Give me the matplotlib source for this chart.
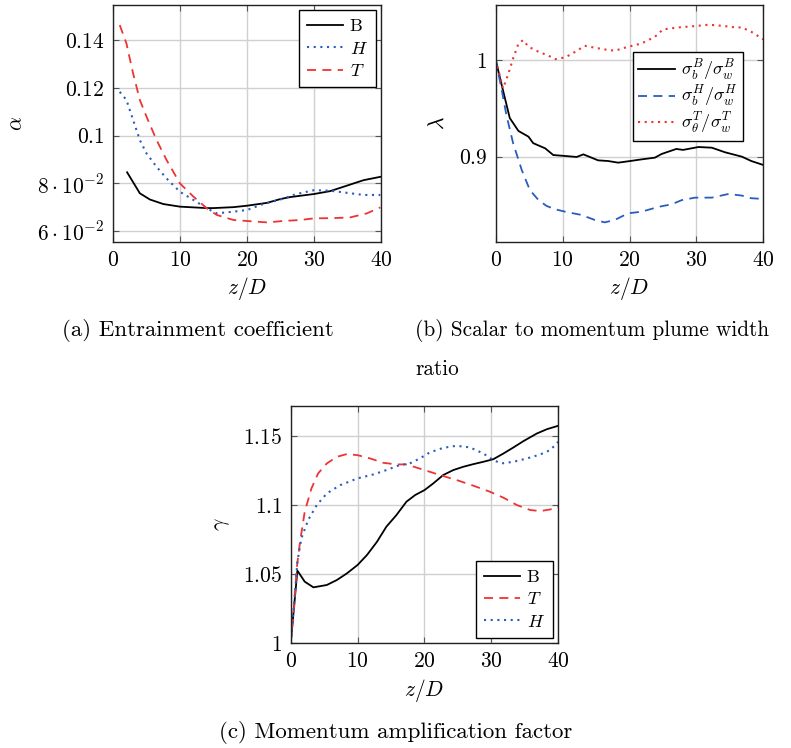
import matplotlib
matplotlib.use("Agg")
import matplotlib.pyplot as plt
import numpy as np

plt.rcParams['font.family'] = 'serif'
plt.rcParams['font.serif'] = ['cmr10', 'DejaVu Serif']
plt.rcParams['mathtext.fontset'] = 'cm'
plt.rcParams['axes.formatter.use_mathtext'] = True

RED = '#ee3333'
BLUE = '#2a5cbf'

# (a) entrainment coefficient
a_B_z = [2.1, 4.0, 5.5, 7.5, 10, 14, 15, 18, 20, 23, 25, 26.4, 30, 32.4, 34.9, 37.4, 39.9]
a_B = [0.0846, 0.0758, 0.0732, 0.0713, 0.0702, 0.0696, 0.0696, 0.0700, 0.0706, 0.0718,
       0.0734, 0.0742, 0.0755, 0.0767, 0.0790, 0.0813, 0.0827]
a_H_z = [1.0, 2.0, 3.0, 4.0, 5.0, 6.5, 8.0, 10, 12, 14, 15.5, 18, 20, 22.4, 25, 27.4, 30,
         32.4, 34.9, 37.4, 39.9]
a_H = [0.1183, 0.1149, 0.1065, 0.0981, 0.0925, 0.0869, 0.0820, 0.0764, 0.0730, 0.0695,
       0.0674, 0.0681, 0.0688, 0.0713, 0.0732, 0.0755, 0.0771, 0.0769, 0.0760, 0.0751, 0.0751]
a_T_z = [1.0, 2.0, 3.0, 4.0, 5.0, 6.5, 8.0, 10, 12, 14, 15.5, 18, 20, 23, 25.4, 27.9, 30,
         32.9, 35.4, 37.9, 39.9]
a_T = [0.1463, 0.1386, 0.1260, 0.1149, 0.1079, 0.0981, 0.0897, 0.0799, 0.0744, 0.0695,
       0.0667, 0.0646, 0.0642, 0.0636, 0.0642, 0.0646, 0.0653, 0.0654, 0.0657, 0.0674, 0.0699]

# (b) scalar to momentum plume width ratio
b_B_z = [0, 0.9, 2.1, 3.4, 4.9, 5.6, 7.4, 8.6, 10.4, 12.1, 13.1, 15.3, 16.8, 18.3, 20.1,
         21.8, 23.8, 24.8, 27.0, 28.0, 30.3, 32.3, 34.3, 36.8, 38.2, 40]
b_B = [1.0, 0.974, 0.940, 0.9266, 0.9207, 0.914, 0.9086, 0.9017, 0.9007, 0.8997, 0.9024,
       0.8962, 0.8955, 0.8938, 0.8955, 0.8972, 0.899, 0.9028, 0.908, 0.907, 0.910, 0.9093,
       0.9045, 0.900, 0.8955, 0.8914]
b_H_z = [0, 0.9, 1.6, 2.6, 3.9, 5.1, 6.4, 7.6, 8.9, 10.4, 12.8, 14.8, 16.3, 17.8, 19.8,
         21.8, 24.3, 26.3, 27.8, 29.8, 32.3, 34.8, 36.8, 38.2, 40]
b_H = [1.0, 0.969, 0.943, 0.914, 0.886, 0.8655, 0.855, 0.849, 0.8455, 0.843, 0.8397,
       0.8345, 0.832, 0.8345, 0.8414, 0.843, 0.848, 0.8507, 0.855, 0.8576, 0.8576, 0.8614,
       0.8597, 0.857, 0.8562]
b_T_z = [0, 0.65, 1.1, 1.9, 2.6, 3.4, 4.1, 4.9, 6.4, 7.9, 8.9, 10.4, 11.9, 13.3, 14.8,
         16.3, 17.8, 19.8, 21.8, 23.8, 25.0, 27.3, 29.8, 31.8, 33.8, 35.8, 36.8, 38.2, 40]
b_T = [1.0, 0.9828, 0.9707, 0.986, 1.0017, 1.017, 1.0207, 1.0138, 1.0086, 1.0045, 1.001,
       1.0028, 1.0086, 1.0148, 1.0128, 1.011, 1.0097, 1.0138, 1.0172, 1.0241, 1.0317,
       1.0338, 1.0352, 1.0366, 1.0355, 1.0338, 1.0338, 1.0293, 1.0214]

# (c) momentum amplification factor
c_B_z = [0, 1.0, 2.1, 3.4, 5.4, 6.9, 8.4, 10, 11.4, 12.9, 14.3, 15.8, 17.3, 18.6, 20,
         21.3, 22.8, 24.3, 25.8, 27.3, 28.8, 30.3, 31.8, 33.3, 34.8, 36.8, 38.3, 40]
c_B = [1.0, 1.0526, 1.0446, 1.0405, 1.0422, 1.0458, 1.0506, 1.0567, 1.0639, 1.0735,
       1.0844, 1.0928, 1.1025, 1.1073, 1.1109, 1.1157, 1.1218, 1.1254, 1.1278, 1.1297,
       1.1314, 1.1333, 1.1374, 1.1418, 1.1464, 1.1519, 1.155, 1.1575]
c_T_z = [0, 0.5, 0.9, 1.4, 2.1, 3.1, 4.1, 5.4, 6.9, 8.4, 10, 11.9, 13.8, 15.8, 17.3, 20,
         22.3, 24.8, 27.3, 29.8, 31.8, 33.8, 35.8, 37.3, 38.8, 40]
c_T = [1.0, 1.0253, 1.0543, 1.0735, 1.0953, 1.1121, 1.123, 1.1302, 1.135, 1.137, 1.1362,
       1.1338, 1.1307, 1.1295, 1.1295, 1.1254, 1.1218, 1.1182, 1.1141, 1.1097, 1.1054,
       1.1001, 1.0965, 1.0957, 1.0969, 1.0989]
c_H_z = [0, 0.5, 1.0, 1.6, 2.6, 3.9, 5.4, 7.4, 10, 12.4, 14.3, 16.3, 17.8, 19.3, 20.8,
         22.8, 24.8, 26.8, 28.8, 30.3, 31.5, 33.3, 35.3, 37.3, 38.8, 40]
c_H = [1.0, 1.0277, 1.0591, 1.076, 1.0892, 1.1001, 1.1085, 1.1145, 1.1194, 1.1223,
       1.1254, 1.129, 1.1302, 1.1338, 1.1382, 1.1415, 1.143, 1.1418, 1.1374, 1.1326,
       1.1302, 1.1314, 1.1338, 1.1367, 1.1399, 1.1459]

x_ticks = [0, 10, 20, 30, 40]
a_ticks = [0.06, 0.08, 0.10, 0.12, 0.14]
a_tick_labels = [r'$6\cdot10^{-2}$', r'$8\cdot10^{-2}$', '$0.1$', '$0.12$', '$0.14$']
b_ticks = [0.9, 1.0]
b_tick_labels = ['$0.9$', '$1$']
c_ticks = [1.0, 1.05, 1.1, 1.15]
c_tick_labels = ['$1$', '$1.05$', '$1.1$', '$1.15$']

dash = (0, (5, 3.5))
dot = (0, (1, 2.2))
fs = 15.5

fig = plt.figure(figsize=(7.91, 7.48), dpi=100)


def style(ax, yt, ytl, ylab):
    ax.set_xlim(0, 40)
    ax.set_xticks(x_ticks)
    ax.set_xticklabels(['$%d$' % v for v in x_ticks])
    ax.set_yticks(yt)
    ax.set_yticklabels(ytl)
    ax.grid(True, color='#d0d0d0', linewidth=1.0)
    ax.set_axisbelow(True)
    ax.tick_params(direction='in', length=4, width=0.8, color='#555555',
                   top=True, right=True, labelsize=fs, pad=6)
    for s in ax.spines.values():
        s.set_color('#222222')
        s.set_linewidth(1.0)
    ax.set_xlabel('$z/D$', fontsize=fs, labelpad=4)
    ax.set_ylabel(ylab, fontsize=fs, labelpad=8)


def legend(ax, spacing=0.35, pad=0.45, **kw):
    leg = ax.legend(frameon=True, fancybox=False, edgecolor='black', borderpad=pad,
                    handlelength=2.0, handletextpad=0.35, labelspacing=spacing,
                    framealpha=1.0, **kw)
    leg.get_frame().set_linewidth(1.0)


ax1 = fig.add_axes([0.1429, 0.6765, 0.3388, 0.3168])
ax1.plot(a_B_z, a_B, color='black', lw=1.3, label='B')
ax1.plot(a_H_z, a_H, color=BLUE, lw=1.5, ls=dot, label='$H$')
ax1.plot(a_T_z, a_T, color=RED, lw=1.3, ls=dash, label='$T$')
ax1.set_ylim(0.0554, 0.1547)
style(ax1, a_ticks, a_tick_labels, r'$\alpha$')
legend(ax1, loc='upper right', fontsize=13, borderaxespad=0.3)

ax2 = fig.add_axes([0.6267, 0.6769, 0.3383, 0.3164])
ax2.plot(b_B_z, b_B, color='black', lw=1.3, label=r'$\sigma_b^B/\sigma_w^B$')
ax2.plot(b_H_z, b_H, color=BLUE, lw=1.3, ls=dash, label=r'$\sigma_b^H/\sigma_w^H$')
ax2.plot(b_T_z, b_T, color=RED, lw=1.5, ls=dot, label=r'$\sigma_\theta^T/\sigma_w^T$')
ax2.set_ylim(0.812, 1.057)
style(ax2, b_ticks, b_tick_labels, r'$\lambda$')
legend(ax2, spacing=0.05, pad=0.3, loc='upper left', bbox_to_anchor=(0.513, 0.801),
       fontsize=13, borderaxespad=0.0)

ax3 = fig.add_axes([0.3675, 0.14, 0.3383, 0.3176])
ax3.plot(c_B_z, c_B, color='black', lw=1.3, label='B')
ax3.plot(c_T_z, c_T, color=RED, lw=1.3, ls=dash, label='$T$')
ax3.plot(c_H_z, c_H, color=BLUE, lw=1.5, ls=dot, label='$H$')
ax3.set_ylim(1.0, 1.172)
style(ax3, c_ticks, c_tick_labels, r'$\gamma$')
legend(ax3, loc='lower right', fontsize=13, borderaxespad=0.3)

cap = 16.5
fig.text(62 / 791, 1 - 331 / 748, '(a) Entrainment coefficient', fontsize=cap,
         ha='left', va='center')
fig.text(415 / 791, 1 - 331 / 748, '(b) Scalar to momentum plume width', fontsize=15.3,
         ha='left', va='center')
fig.text(415 / 791, 1 - 369 / 748, 'ratio', fontsize=15.3, ha='left', va='center')
fig.text(396 / 791, 1 - 733 / 748, '(c) Momentum amplification factor', fontsize=cap,
         ha='center', va='center')

fig.savefig('out.png', dpi=100)
